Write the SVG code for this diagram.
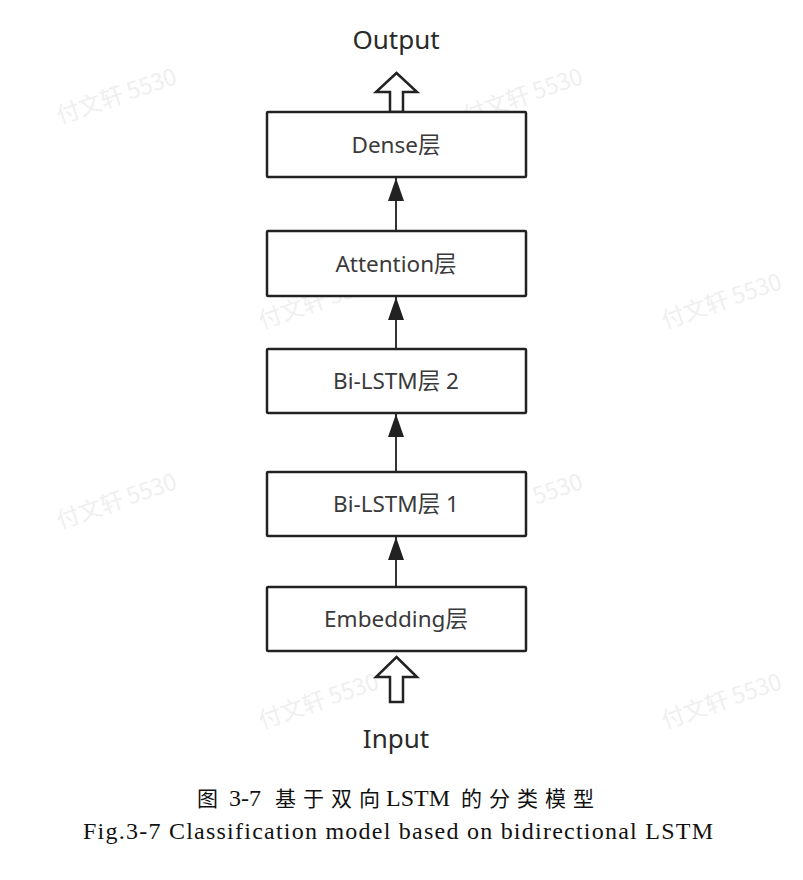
<svg xmlns="http://www.w3.org/2000/svg" width="803" height="880" viewBox="0 0 803 880">
<defs>
<style>
.box{fill:#fff;stroke:#222;stroke-width:2.5}
.lbl{font-family:"Noto Sans","Open Sans","Noto Sans CJK SC",sans-serif;font-size:22.5px;fill:#3a3a3a;text-anchor:middle}
.io{font-family:"Noto Sans","Open Sans",sans-serif;font-size:26px;fill:#2a2a2a;text-anchor:middle}
.conn{stroke:#333;stroke-width:2;fill:none}
.hollow{fill:#fff;stroke:#222;stroke-width:2.5;stroke-linejoin:miter}
.wm{font-family:"Noto Sans CJK SC","Noto Sans",sans-serif;font-size:23px;fill:#efefef}
.cap{font-family:"Liberation Serif","Noto Sans CJK SC",serif;fill:#111}
.cjk{font-family:"Noto Sans CJK SC",serif;font-size:21px}
</style>
<marker id="ah" markerUnits="userSpaceOnUse" markerWidth="26" markerHeight="18" refX="23" refY="8" orient="auto">
<path d="M0,0 L23,8 L0,16 Z" fill="#222"/>
</marker>
</defs>
<rect width="803" height="880" fill="#fff"/>
<g id="watermarks">
<text class="wm" transform="translate(60,124) rotate(-19)">付文轩 5530</text>
<text class="wm" transform="translate(466,124) rotate(-19)">付文轩 5530</text>
<text class="wm" transform="translate(262,329) rotate(-19)">付文轩 5530</text>
<text class="wm" transform="translate(665,329) rotate(-19)">付文轩 5530</text>
<text class="wm" transform="translate(60,529) rotate(-19)">付文轩 5530</text>
<text class="wm" transform="translate(466,529) rotate(-19)">付文轩 5530</text>
<text class="wm" transform="translate(262,729) rotate(-19)">付文轩 5530</text>
<text class="wm" transform="translate(665,729) rotate(-19)">付文轩 5530</text>
</g>
<g id="connectors">
<line class="conn" x1="396" y1="587" x2="396" y2="537" marker-end="url(#ah)"/>
<line class="conn" x1="396" y1="472" x2="396" y2="414" marker-end="url(#ah)"/>
<line class="conn" x1="396" y1="349" x2="396" y2="297" marker-end="url(#ah)"/>
<line class="conn" x1="396" y1="231" x2="396" y2="178" marker-end="url(#ah)"/>
<polygon id="out-arrow" class="hollow" points="396.5,73 417,92 403,92 403,112 390,112 390,92 376,92"/>
<polygon id="in-arrow" class="hollow" points="396.5,657 417,677 403,677 403,702 390,702 390,677 376,677"/>
</g>
<g id="node-output"><text class="io" x="396" y="49">Output</text></g>
<g id="node-dense"><rect class="box" x="267" y="112" width="259" height="65" rx="1"/><text class="lbl" x="396" y="153">Dense层</text></g>
<g id="node-attention"><rect class="box" x="267" y="231" width="259" height="65" rx="1"/><text class="lbl" x="396" y="272">Attention层</text></g>
<g id="node-bilstm2"><rect class="box" x="267" y="349" width="259" height="64" rx="1"/><text class="lbl" x="396" y="389">Bi-LSTM层 2</text></g>
<g id="node-bilstm1"><rect class="box" x="267" y="472" width="259" height="64" rx="1"/><text class="lbl" x="396" y="512">Bi-LSTM层 1</text></g>
<g id="node-embedding"><rect class="box" x="267" y="587" width="259" height="64" rx="1"/><text class="lbl" x="396" y="627">Embedding层</text></g>
<g id="node-input"><text class="io" x="396" y="748">Input</text></g>
<g id="caption">
<text class="cap" y="806" font-size="24"><tspan class="cjk" x="197">图</tspan><tspan x="229">3-7</tspan><tspan class="cjk" x="275 303 331 359">基于双向</tspan><tspan x="386">LSTM</tspan><tspan class="cjk" x="461 489 517 545 573">的分类模型</tspan></text>
<text class="cap" x="398" y="839" font-size="24" text-anchor="middle" textLength="630" lengthAdjust="spacing">Fig.3-7 Classification model based on bidirectional LSTM</text>
</g>
</svg>
